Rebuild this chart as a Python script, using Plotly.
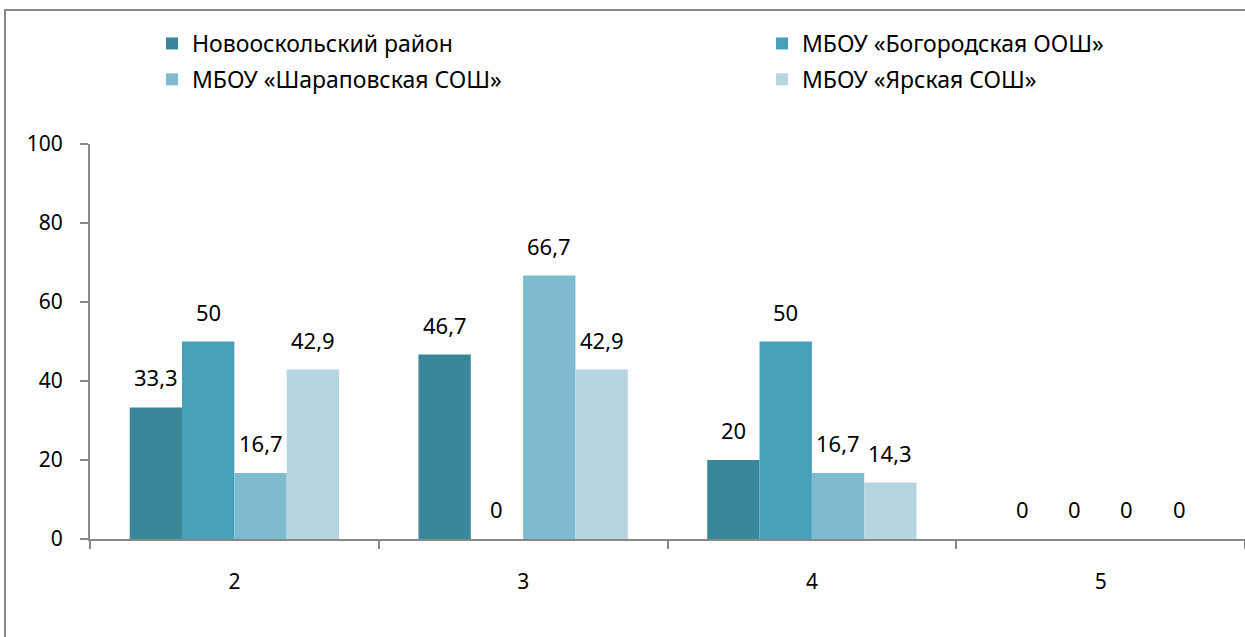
import plotly.graph_objects as go

categories = ["2", "3", "4", "5"]
series_names = [
    "Новооскольский район",
    "МБОУ «Богородская ООШ»",
    "МБОУ «Шараповская СОШ»",
    "МБОУ «Ярская СОШ»",
]
values_raion = [33.3, 46.7, 20, 0]
values_bogorod = [50, 0, 50, 0]
values_sharap = [16.7, 66.7, 16.7, 0]
values_yar = [42.9, 42.9, 14.3, 0]
colors = ["#3A8799", "#46A0BA", "#7EBBD0", "#B7D5E0"]

all_values = [values_raion, values_bogorod, values_sharap, values_yar]

W, H = 1245, 637
ml, mr, mt, mb = 90, 0, 144, 98
bargap = 0.275
font_family = "'Noto Sans', 'Open Sans', sans-serif"
fs = 21

legend_of = ["legend", "legend2", "legend", "legend2"]

fig = go.Figure()
for k, (name, vals, col, lg) in enumerate(zip(series_names, all_values, colors, legend_of)):
    fig.add_trace(go.Bar(x=categories, y=vals, name=name, marker_color=col,
                         marker_line_width=0, legend=lg, legendgroup="g%d" % k))

# data labels
cat_w = (W - ml - mr) / len(categories)
bar_w = cat_w * (1 - bargap) / len(all_values)

def fmt(v):
    return ("%g" % v).replace(".", ",")

for i, vals in enumerate(all_values):
    for ci, v in enumerate(vals):
        fig.add_annotation(x=ci, y=v, xref="x", yref="y", text=fmt(v), showarrow=False,
                           xshift=(i - 1.5) * bar_w, yanchor="bottom", yshift=13,
                           font=dict(size=22, color="black", family=font_family))

pw, ph = W - ml - mr, H - mt - mb
fig.add_shape(type="rect", xref="paper", yref="paper",
              x0=(5 - ml) / pw, x1=1.2,
              y0=-0.5, y1=1 + (mt - 10) / ph,
              line=dict(color="#888888", width=2), fillcolor="rgba(0,0,0,0)", layer="below")

legend_common = dict(orientation="v", yanchor="top", xanchor="left",
                     font=dict(size=23, family=font_family, color="black"),
                     itemwidth=30, traceorder="grouped", tracegroupgap=3,
                     bgcolor="rgba(0,0,0,0)", borderwidth=0)

fig.update_layout(
    width=W, height=H,
    margin=dict(l=ml, r=mr, t=mt, b=mb, autoexpand=False),
    paper_bgcolor="white", plot_bgcolor="white",
    barmode="group", bargap=bargap, bargroupgap=0,
    font=dict(family=font_family, size=fs, color="black"),
    showlegend=True,
    legend=dict(x=(152 - ml) / pw, y=1 + (mt - 22) / ph, **legend_common),
    legend2=dict(x=(762 - ml) / pw, y=1 + (mt - 22) / ph, **legend_common),
    xaxis=dict(type="category", range=[-0.5, 3.5], showline=True, linecolor="#888888", linewidth=2,
               ticks="outside", tickson="boundaries", ticklen=8, tickcolor="#888888",
               tickwidth=2, showgrid=False, tickfont=dict(size=fs), ticklabelstandoff=23),
    yaxis=dict(range=[0, 100], dtick=20, showline=True, linecolor="#888888", linewidth=2,
               ticks="outside", ticklen=8, tickcolor="#888888", tickwidth=2,
               showgrid=False, zeroline=False, tickfont=dict(size=fs), ticklabelstandoff=13),
)

fig.write_html("out.html", config={"displayModeBar": False},
               post_script="document.body.style.margin='0';document.body.style.padding='0';")
